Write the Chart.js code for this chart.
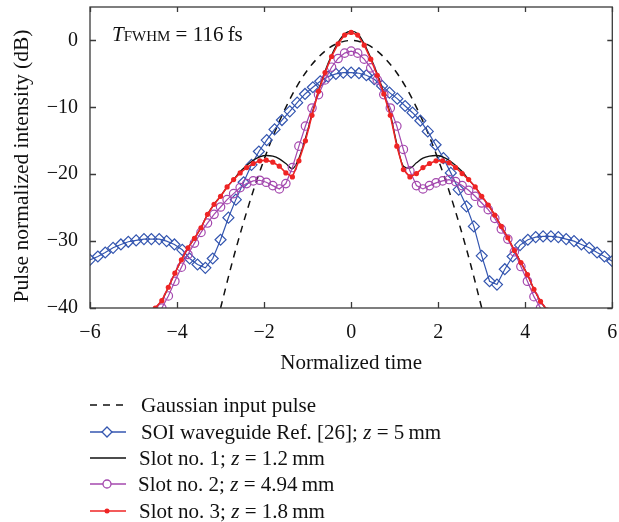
<!DOCTYPE html>
<html>
<head>
<meta charset="utf-8">
<script src="https://cdn.jsdelivr.net/npm/chart.js@4.4.1/dist/chart.umd.min.js"></script>
<style>
  body { margin: 0; background: #fff; }
  #wrap { position: relative; width: 619px; height: 522px; font-family: "Liberation Serif", "DejaVu Serif", serif; color: #111; }
  #chart { position: absolute; left: 0; top: 0; }
  .note { position: absolute; left: 112px; top: 24px; font-size: 21px; line-height: 21px; white-space: nowrap; }
  .note .sc { font-size: 15px; }
  .leg { position: absolute; left: 88px; height: 26px; display: flex; align-items: center; font-size: 21px; white-space: nowrap; }
  .leg svg { width: 40px; height: 16px; margin-right: 13px; }
</style>
</head>
<body>
<div id="wrap">
  <canvas id="chart" width="619" height="522"></canvas>
  <div class="note"><i>T</i><span class="sc">FWHM</span> = 116&#8201;fs</div>

  <div class="leg" style="top:392px">
    <svg viewBox="0 0 40 16"><line x1="2" y1="8" x2="38" y2="8" stroke="#111" stroke-width="1.5" stroke-dasharray="7,6"/></svg>
    <span>Gaussian input pulse</span>
  </div>
  <div class="leg" style="top:419px">
    <svg viewBox="0 0 40 16"><line x1="2" y1="8" x2="38" y2="8" stroke="#3456b0" stroke-width="1.3"/><path d="M19 3 L24 8 L19 13 L14 8 Z" fill="#fff" stroke="#3456b0" stroke-width="1.3"/></svg>
    <span>SOI waveguide Ref. [26]; <i>z</i> = 5&#8201;mm</span>
  </div>
  <div class="leg" style="top:445px">
    <svg viewBox="0 0 40 16" style="margin-right:11px"><line x1="2" y1="8" x2="38" y2="8" stroke="#111" stroke-width="1.4"/></svg>
    <span>Slot no. 1; <i>z</i> = 1.2&#8201;mm</span>
  </div>
  <div class="leg" style="top:471px">
    <svg viewBox="0 0 40 16" style="margin-right:10px"><line x1="2" y1="8" x2="38" y2="8" stroke="#a448ae" stroke-width="1.3"/><circle cx="19" cy="8" r="4" fill="#fff" stroke="#a448ae" stroke-width="1.3"/></svg>
    <span>Slot no. 2; <i>z</i> = 4.94&#8201;mm</span>
  </div>
  <div class="leg" style="top:498px">
    <svg viewBox="0 0 40 16" style="margin-right:11px"><line x1="2" y1="8" x2="38" y2="8" stroke="#ef2424" stroke-width="1.6"/><circle cx="19" cy="8" r="2.5" fill="#ef2424"/></svg>
    <span>Slot no. 3; <i>z</i> = 1.8&#8201;mm</span>
  </div>
</div>

<script>
// Gaussian input pulse (dashed)
var gaussT  = [-3, -2.75, -2.5, -2.25, -2, -1.75, -1.5, -1.25, -1, -0.75, -0.5, -0.25, 0,
               0.25, 0.5, 0.75, 1, 1.25, 1.5, 1.75, 2, 2.25, 2.5, 2.75, 3];
var gaussDb = [-40, -33.6, -27.8, -22.5, -17.8, -13.6, -10.0, -6.9, -4.4, -2.5, -1.1, -0.3, 0,
               -0.3, -1.1, -2.5, -4.4, -6.9, -10.0, -13.6, -17.8, -22.5, -27.8, -33.6, -40];

// SOI waveguide Ref. [26]
var soiT  = [-6.00, -5.82, -5.65, -5.47, -5.29, -5.12, -4.94, -4.76, -4.59, -4.41, -4.24, -4.06,
             -3.88, -3.71, -3.53, -3.35, -3.18, -3.00, -2.82, -2.65, -2.47, -2.29, -2.12, -1.94,
             -1.76, -1.59, -1.41, -1.24, -1.06, -0.88, -0.71, -0.53, -0.35, -0.18, 0.00,
             0.18, 0.35, 0.53, 0.71, 0.88, 1.06, 1.24, 1.41, 1.59, 1.76, 1.94, 2.12,
             2.29, 2.47, 2.65, 2.82, 3.00, 3.18, 3.35, 3.53, 3.71, 3.88, 4.06, 4.24,
             4.41, 4.59, 4.76, 4.94, 5.12, 5.29, 5.47, 5.65, 5.82, 6.00];
var soiDb = [-32.8, -32.3, -31.7, -31.0, -30.5, -30.1, -29.9, -29.7, -29.7, -29.7, -30.0, -30.5,
             -31.3, -32.6, -33.5, -34.0, -32.6, -29.8, -26.5, -23.8, -21.2, -18.6, -16.6, -14.9,
             -13.3, -11.9, -10.6, -9.3, -8.0, -7.0, -6.1, -5.4, -5.0, -4.8, -4.8,
             -4.9, -5.2, -5.8, -6.8, -7.8, -8.7, -9.8, -10.8, -12.0, -13.6, -15.6, -17.6,
             -19.8, -22.3, -24.8, -27.8, -32.2, -36.0, -36.5, -34.2, -32.3, -30.6, -29.8, -29.4,
             -29.3, -29.3, -29.4, -29.7, -30.0, -30.5, -31.0, -31.7, -32.3, -33.0];

// Slot no. 1 and no. 3 share the same time grid
var slotT = [-4.50, -4.35, -4.20, -4.05, -3.90, -3.75, -3.60, -3.45, -3.30, -3.15, -3.00,
             -2.85, -2.70, -2.55, -2.40, -2.25, -2.10, -1.95, -1.80, -1.65, -1.50,
             -1.35, -1.20, -1.05, -0.90, -0.75, -0.60, -0.45, -0.30, -0.15, 0.00,
             0.15, 0.30, 0.45, 0.60, 0.75, 0.90, 1.05, 1.20, 1.35, 1.50,
             1.65, 1.80, 1.95, 2.10, 2.25, 2.40, 2.55, 2.70, 2.85, 3.00,
             3.15, 3.30, 3.45, 3.60, 3.75, 3.90, 4.05, 4.20, 4.35, 4.50];
var slot1Db = [-40.0, -38.9, -36.9, -34.8, -32.8, -31.0, -29.6, -28.0, -26.0, -24.5, -23.3,
               -21.9, -20.8, -19.6, -18.7, -17.9, -17.4, -17.2, -17.3, -17.7, -18.4,
               -19.2, -17.6, -14.6, -11.0, -7.5, -4.6, -2.2, -0.3, 1.0, 1.4,
               1.0, -0.5, -2.6, -5.0, -7.8, -11.0, -15.5, -18.8, -19.1, -18.3,
               -17.6, -17.3, -17.2, -17.4, -17.9, -18.7, -19.6, -20.8, -21.9, -23.3,
               -24.6, -26.1, -27.8, -29.5, -31.4, -33.2, -35.0, -37.2, -39.0, -40.3];
var slot3Db = [-40.0, -38.9, -36.9, -34.8, -32.8, -31.0, -29.6, -28.0, -26.0, -24.5, -23.3,
               -21.9, -20.8, -19.8, -19.0, -18.4, -18.0, -17.9, -18.2, -18.8, -19.8,
               -20.4, -18.0, -15.0, -11.2, -7.6, -4.8, -2.4, -0.5, 0.8, 1.2,
               0.8, -0.7, -2.8, -5.2, -8.0, -11.2, -15.8, -19.3, -20.4, -19.9,
               -19.0, -18.4, -18.0, -18.0, -18.3, -19.0, -19.9, -20.8, -21.9, -23.3,
               -24.6, -26.1, -27.8, -29.5, -31.4, -33.2, -35.0, -37.2, -39.0, -40.3];

// Slot no. 2
var slot2T  = [-4.35, -4.20, -4.05, -3.90, -3.75, -3.60, -3.45, -3.30, -3.15, -3.00,
               -2.85, -2.70, -2.55, -2.40, -2.25, -2.10, -1.95, -1.80, -1.65, -1.50,
               -1.35, -1.20, -1.05, -0.90, -0.75, -0.60, -0.45, -0.30, -0.15, 0.00,
               0.15, 0.30, 0.45, 0.60, 0.75, 0.90, 1.05, 1.20, 1.35, 1.50,
               1.65, 1.80, 1.95, 2.10, 2.25, 2.40, 2.55, 2.70, 2.85, 3.00,
               3.15, 3.30, 3.45, 3.60, 3.75, 3.90, 4.05, 4.20, 4.35];
var slot2Db = [-40.0, -38.2, -36.0, -33.9, -32.0, -30.3, -28.7, -27.3, -26.0, -24.9,
               -23.8, -22.9, -22.0, -21.4, -21.0, -20.9, -21.2, -21.7, -22.2, -21.4,
               -19.0, -15.8, -12.8, -10.1, -8.1, -5.9, -4.0, -2.7, -1.9, -1.6,
               -1.9, -2.8, -4.1, -5.9, -8.1, -10.1, -12.8, -16.3, -19.5, -21.7,
               -22.2, -21.7, -21.3, -21.0, -20.8, -21.1, -21.7, -22.4, -23.3, -24.3,
               -25.3, -26.6, -28.2, -29.7, -31.6, -33.8, -36.0, -38.3, -40.0];

var xTicks = [-6, -4, -2, 0, 2, 4, 6];
var yTicks = [-40, -30, -20, -10, 0];
var yTitle = 'Pulse normalized intensity (dB)';

function pts(ts, vs) {
    return ts.map(function (t, i) { return {x: t, y: vs[i]}; });
}
function minus(v) {
    return v < 0 ? '\u2212' + Math.abs(v) : String(v);
}

// box round the plot with inward ticks on all four sides, plus the y title
var frameTicks = {
    id: 'frameTicks',
    afterDraw: function (chart) {
        var ctx = chart.ctx, a = chart.chartArea;
        var x = chart.scales.x, y = chart.scales.y;
        ctx.save();
        ctx.strokeStyle = '#3a3a3a';
        ctx.lineWidth = 1.3;
        ctx.strokeRect(a.left, a.top, a.right - a.left, a.bottom - a.top);
        ctx.beginPath();
        xTicks.forEach(function (v) {
            var px = Math.round(x.getPixelForValue(v)) + 0.5;
            ctx.moveTo(px, a.bottom); ctx.lineTo(px, a.bottom - 6);
            ctx.moveTo(px, a.top); ctx.lineTo(px, a.top + 5);
        });
        yTicks.forEach(function (v) {
            var py = Math.round(y.getPixelForValue(v)) + 0.5;
            ctx.moveTo(a.left, py); ctx.lineTo(a.left + 6, py);
            ctx.moveTo(a.right, py); ctx.lineTo(a.right - 5, py);
        });
        ctx.stroke();

        // y title, centred a little below the middle as in the figure
        ctx.translate(22, 166);
        ctx.rotate(-Math.PI / 2);
        ctx.fillStyle = '#111';
        ctx.font = '21.5px "Liberation Serif", "DejaVu Serif", serif';
        ctx.textAlign = 'center';
        ctx.textBaseline = 'middle';
        ctx.fillText(yTitle, 0, 0);
        ctx.restore();
    }
};

Chart.defaults.font.family = '"Liberation Serif", "DejaVu Serif", serif';
Chart.defaults.color = '#111';

new Chart(document.getElementById('chart'), {
    type: 'line',
    data: {
        datasets: [
            {
                label: 'Slot no. 3; z = 1.8 mm',
                data: pts(slotT, slot3Db),
                borderColor: '#ef2424', backgroundColor: '#ef2424',
                borderWidth: 1.6, pointRadius: 2.6, pointBorderWidth: 0,
                order: 1
            },
            {
                label: 'Slot no. 2; z = 4.94 mm',
                data: pts(slot2T, slot2Db),
                borderColor: '#a448ae', backgroundColor: 'rgba(0,0,0,0)',
                borderWidth: 1.2, pointRadius: 4.2, pointBorderWidth: 1.2,
                order: 2
            },
            {
                label: 'Slot no. 1; z = 1.2 mm',
                data: pts(slotT, slot1Db),
                borderColor: '#111', borderWidth: 1.3, pointRadius: 0,
                cubicInterpolationMode: 'monotone',
                order: 3
            },
            {
                label: 'SOI waveguide Ref. [26]; z = 5 mm',
                data: pts(soiT, soiDb),
                borderColor: '#3456b0', backgroundColor: 'rgba(0,0,0,0)',
                borderWidth: 1.2, pointStyle: 'rectRot', pointRadius: 5.5, pointBorderWidth: 1.2,
                order: 4
            },
            {
                label: 'Gaussian input pulse',
                data: pts(gaussT, gaussDb),
                borderColor: '#111', borderWidth: 1.5, borderDash: [7, 6], pointRadius: 0,
                cubicInterpolationMode: 'monotone',
                order: 5
            }
        ]
    },
    options: {
        responsive: false,
        animation: false,
        events: [],
        layout: { padding: { left: 0, right: 5, top: 7, bottom: 144 } },
        plugins: { legend: { display: false }, tooltip: { enabled: false } },
        scales: {
            x: {
                type: 'linear', min: -6, max: 6,
                afterBuildTicks: function (s) { s.ticks = xTicks.map(function (v) { return {value: v}; }); },
                ticks: { padding: 13, maxRotation: 0, font: { size: 20 }, callback: minus },
                grid: { display: false, drawTicks: false },
                border: { display: false },
                title: { display: true, text: 'Normalized time', font: { size: 21 }, padding: { top: 0, bottom: 2 } },
                afterFit: function (s) { s.height = 70; s.paddingLeft = 0; s.paddingRight = 0; }
            },
            y: {
                min: -40, max: 5,
                afterBuildTicks: function (s) { s.ticks = yTicks.map(function (v) { return {value: v}; }); },
                ticks: { padding: 12, font: { size: 20 }, callback: minus },
                grid: { display: false, drawTicks: false },
                border: { display: false },
                afterFit: function (s) { s.width = 90; s.paddingTop = 0; s.paddingBottom = 0; }
            }
        }
    },
    plugins: [frameTicks]
});
</script>
</body>
</html>
